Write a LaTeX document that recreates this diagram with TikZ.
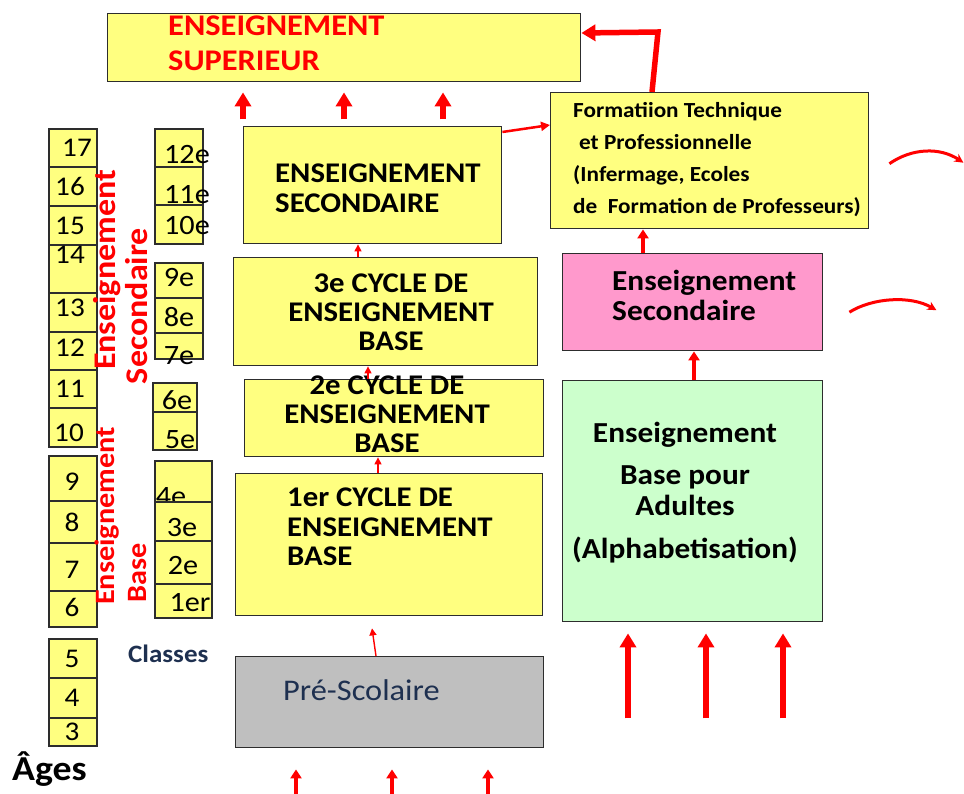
\documentclass[tikz,border=0pt]{standalone}
\usepackage{fontspec}
\setmainfont{Carlito}[FakeStretch=1.08]
\usetikzlibrary{arrows.meta, calc}
\definecolor{cRed}{RGB}{255,0,0}
\definecolor{cEdge}{RGB}{45,45,45}
\definecolor{cNavy}{RGB}{30,48,80}
\definecolor{cFillYellow}{RGB}{255,255,128}
\definecolor{cFillPink}{RGB}{255,153,204}
\definecolor{cFillGreen}{RGB}{204,255,204}
\definecolor{cFillGray}{RGB}{191,191,191}
\newcommand{\fsz}[2]{\fontsize{#1}{#2}\selectfont}
\tikzset{
  %% level boxes
  lvbox/.style={rectangle, draw=cEdge, line width=1.4pt, inner sep=0pt,
                anchor=north west},
  lvboxY/.style={lvbox, fill=cFillYellow},
  %% box texts
  lvtxt/.style={font=\fsz{28.5}{29}\bfseries, inner sep=0pt},
  %% age / class cells
  cell/.style={rectangle, draw=cEdge, line width=1.4pt, fill=cFillYellow,
               inner sep=0pt},
  cellnum/.style={font=\fsz{27}{27}, inner sep=0pt},
  %% red side labels
  sidelbl/.style={text=cRed, rotate=90, inner sep=0pt},
  %% arrows
  upBig/.style={draw=cRed, line width=5.5pt, -{Triangle[width=16pt,length=14pt]}},
  upMid/.style={draw=cRed, line width=3.5pt, -{Triangle[width=11pt,length=9pt]}},
  upThin/.style={draw=cRed, line width=1.4pt, -{Triangle[width=7pt,length=7pt]}},
  bendArrow/.style={draw=cRed, line width=3pt, -{Stealth[width=9pt,length=9pt]}},
}

\begin{document}
\begin{tikzpicture}[x=1pt, y=-1pt]
\useasboundingbox (0,0) rectangle (964,794);

%% ============================================================
%%  LEVEL BOXES
%% ============================================================
\node[lvboxY, minimum width=473pt, minimum height=68pt]  (sup)  at (107,13)  {};
\node[lvboxY, minimum width=258pt, minimum height=117pt] (sec)  at (243,126) {};
\node[lvboxY, minimum width=304pt, minimum height=108pt] (cyc3) at (233,257) {};
\node[lvboxY, minimum width=299pt, minimum height=77pt]  (cyc2) at (244,379) {};
\node[lvboxY, minimum width=307pt, minimum height=142pt] (cyc1) at (235,473) {};
\node[lvbox, fill=cFillGray, minimum width=308pt, minimum height=91pt] (pre) at (235,656) {};

\node[lvboxY, minimum width=318pt, minimum height=136pt] (form) at (550,92) {};
\node[lvbox, fill=cFillPink,  minimum width=260pt, minimum height=97pt]  (pink)  at (562,253) {};
\node[lvbox, fill=cFillGreen, minimum width=260pt, minimum height=241pt] (adult) at (562,380) {};

%% ----- Box texts -----
\node[lvtxt, text=cRed, font=\fsz{30}{35}\bfseries, align=left, anchor=west]
  (supTxt) at (168,43) {ENSEIGNEMENT\\SUPERIEUR};
\node[lvtxt, font=\fsz{28.5}{30}\bfseries, align=left, anchor=west]
  (secTxt) at (275,188) {ENSEIGNEMENT\\SECONDAIRE};
\node[lvtxt, align=center] (cyc3Txt) at (391,312) {3e CYCLE DE\\ENSEIGNEMENT\\BASE};
\node[lvtxt, align=center] (cyc2Txt) at (387,414) {2e CYCLE DE\\ENSEIGNEMENT\\BASE};
\node[lvtxt, font=\fsz{28.5}{29.5}\bfseries, align=left, anchor=west]
  (cyc1Txt) at (287,527) {1er CYCLE DE\\ENSEIGNEMENT\\BASE};
\node[lvtxt, font=\fsz{30}{30}, text=cNavy, anchor=base west]
  (preTxt) at (283,700) {Pré-Scolaire};

\node[lvtxt, font=\fsz{21.5}{32}\bfseries, align=left, anchor=west] (formTxt) at (573,160) {%
  Formatiion Technique\\
  \hspace*{6pt}et Professionnelle\\
  (Infermage, Ecoles\\
  de\ \ Formation de Professeurs)
};
\node[lvtxt, font=\fsz{29}{30}\bfseries, align=left, anchor=west]
  (pinkTxt) at (612,295) {Enseignement\\Secondaire};
\node[lvtxt, font=\fsz{29}{31}\bfseries, align=center] (adultTxt) at (685,493) {%
  Enseignement\\[11pt]
  Base pour\\
  Adultes\\[12pt]
  (Alphabetisation)
};

%% ============================================================
%%  AGES COLUMN
%% ============================================================
\foreach \n/\t/\b/\dx/\dy in {17/129/167/4/0, 16/167/206/-3/0, 15/206/245/-3/0,
    14/245/293/-3/-14, 13/293/332/-3/-5, 12/332/370/-3/-3, 11/370/408/-3/0,
    10/408/447/-4/5, 9/456/501/-1/3, 8/501/543/-1/0, 7/543/591/-1/3,
    6/591/627/-1/-2, 5/639/678/-1/0, 4/678/718/-1/0, 3/718/746/-1/0} {
  \node[cell, minimum width=48pt, minimum height={(\b-\t)*1pt}] (age\n)
    at (73,{(\t+\b)/2}) {};
  \node[cellnum] (ageN\n) at ($(age\n.center)+(\dx,\dy)$) {\n};
}

%% ============================================================
%%  CLASSES COLUMN
%% ============================================================
\foreach \c/\xl/\xr/\t/\b/\tx/\ty in {12e/155/203/129/167/187/155,
    11e/155/203/167/205/187/195, 10e/155/203/205/244/187/226,
    9e/155/203/263/298/179/278, 8e/155/203/298/333/179/317,
    7e/155/203/333/359/179/356, 6e/153/197/383/412/177/400,
    5e/153/197/412/450/180/440, 4e/155/212/461/502/171/497,
    3e/155/212/502/541/182/528, 2e/155/212/541/584/183/566,
    1er/155/212/584/618/190/603} {
  \node[cell, minimum width={(\xr-\xl)*1pt}, minimum height={(\b-\t)*1pt}] (cls\c)
    at ({(\xl+\xr)/2},{(\t+\b)/2}) {};
  \node[cellnum, font=\fsz{28}{28}] (clsN\c) at (\tx,\ty) {\c};
}

%% ----- Red side labels -----
\node[sidelbl, font=\fsz{31.5}{32}\bfseries] (sideSecA) at (107,270) {Enseignement};
\node[sidelbl, font=\fsz{31.5}{32}\bfseries] (sideSecB) at (137,306) {Secondaire};
\node[sidelbl, font=\fsz{28}{28}\bfseries]   (sideBasA) at (107,516) {Enseignement};
\node[sidelbl, font=\fsz{28}{28}\bfseries]   (sideBasB) at (138,573) {Base};

%% ----- Column captions -----
\node[font=\fsz{25}{25}\bfseries, text=cNavy, inner sep=0pt, anchor=base west]
  (classes) at (128,662) {Classes};
\node[font=\fsz{35}{35}\bfseries, inner sep=0pt, anchor=base west]
  (ages) at (12,780) {Âges};

%% ============================================================
%%  ARROWS
%% ============================================================
%% into higher education
\foreach \dx in {136,237,336} {
  \draw[upBig] ($(sup.south west)+(\dx,37)$) -- ($(sup.south west)+(\dx,10)$);
}
\draw[upBig] ($(form.north west)+(102,0)$) -- ($(form.north west)+(108,-60)$)
  -- ($(sup.north east)+(0,20)$);
\draw[upMid, line width=2.5pt, -{Triangle[width=9pt,length=9pt]}]
  ($(sec.north east)+(0,6)$) -- ($(form.north west)+(0,33)$);

%% formal track
\draw[upThin] ($(cyc3.north west)+(125,0)$) -- ($(sec.south west)+(115,0)$);
\draw[upThin] ($(cyc2.north west)+(124,0)$) -- ($(cyc3.south west)+(135,0)$);
\draw[upThin] ($(cyc1.north west)+(143,0)$) -- ($(cyc2.south west)+(134,0)$);
\draw[upThin] ($(pre.north west)+(141,0)$)  -- ($(cyc1.south west)+(137,12)$);
\foreach \dx in {61,157,253} {
  \draw[upMid] ($(pre.south west)+(\dx,47)$) -- ($(pre.south west)+(\dx,21)$);
}

%% adult track
\draw[upMid] ($(pink.north west)+(81,0)$) -- ($(form.south west)+(93,0)$);
\draw[upMid] ($(adult.north west)+(132,0)$) -- ($(pink.south west)+(132,0)$);
\foreach \dx in {66,144,221} {
  \draw[upBig] ($(adult.south west)+(\dx,96)$) -- ($(adult.south west)+(\dx,11)$);
}

%% side bends
\draw[bendArrow] ($(form.east)+(20,3)$) .. controls (912,148) and (940,147) .. ($(form.east)+(94,2)$);
\draw[bendArrow] ($(pink.east)+(26,10)$) .. controls (872,298) and (910,295) .. ($(pink.east)+(113,8)$);

\end{tikzpicture}
\end{document}
